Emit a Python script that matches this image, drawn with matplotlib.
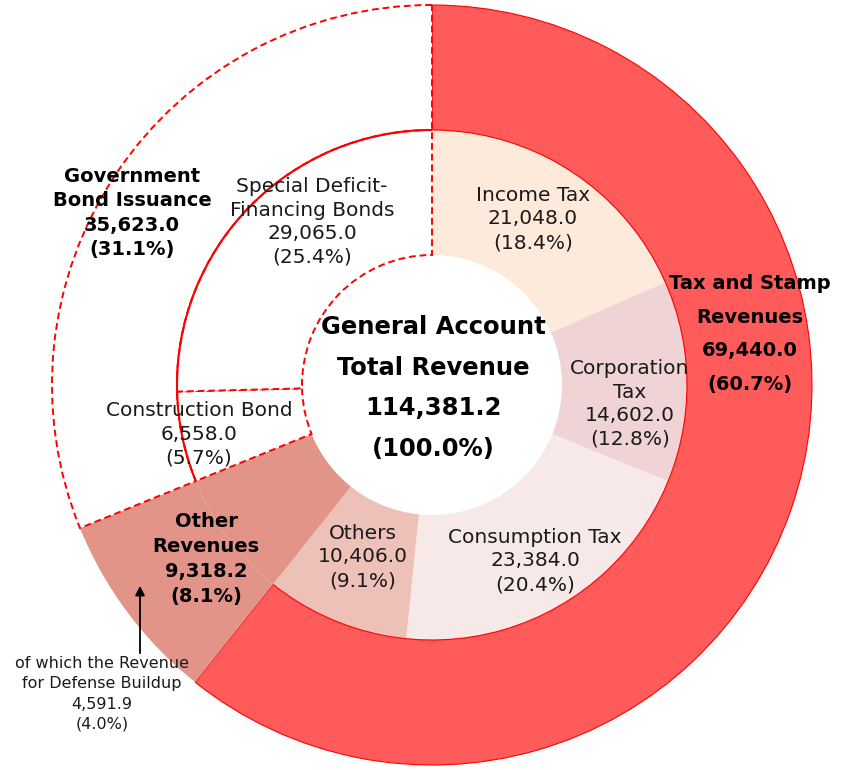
import matplotlib
matplotlib.use("Agg")
import matplotlib.pyplot as plt
from matplotlib.patches import Arc

plt.rcParams['font.family'] = ['DejaVu Sans']

# ---- data ----
outer_labels = ["Tax and Stamp\nRevenues", "Other\nRevenues", "Government\nBond Issuance"]
outer_values = [69440.0, 9318.2, 35623.0]
outer_pcts = [60.7, 8.1, 31.1]

inner_labels = ["Income Tax", "Corporation\nTax", "Consumption Tax", "Others",
                "Other Revenues", "Construction Bond", "Special Deficit-\nFinancing Bonds"]
inner_values = [21048.0, 14602.0, 23384.0, 10406.0, 9318.2, 6558.0, 29065.0]
inner_pcts = [18.4, 12.8, 20.4, 9.1, 8.1, 5.7, 25.4]

total_value = 114381.2
defense_value = 4591.9
defense_pct = 4.0

# ---- style ----
RED = "#FF0000"
outer_colors = ["#FF5B5B", "#E29489", "white"]
inner_colors = ["#FDEADB", "#F0D4D5", "#F6E9E7", "#EDC1B7", "#E29489", "white", "white"]

W, H = 843, 770
fig = plt.figure(figsize=(W / 100, H / 100), dpi=100)
ax = fig.add_axes([0, 0, 1, 1])

def Y(y_img):
    return H - y_img

cx, cy = 432, Y(385)
R_out, R_mid, R_in = 380, 255, 130

outer_w, _ = ax.pie(outer_values, radius=R_out, center=(cx, cy), startangle=90,
                    counterclock=False, colors=outer_colors,
                    wedgeprops=dict(width=R_out - R_mid, linewidth=0))
inner_w, _ = ax.pie(inner_values, radius=R_mid, center=(cx, cy), startangle=90,
                    counterclock=False, colors=inner_colors,
                    wedgeprops=dict(width=R_mid - R_in, linewidth=0))

DASH = (0, (3.5, 2))
for w in inner_w:
    w.set_zorder(1)
# tax outer: solid thin red edge
outer_w[0].set_edgecolor(RED); outer_w[0].set_linewidth(0.8); outer_w[0].set_zorder(2)
outer_w[1].set_zorder(2)
# bond outer: dashed
outer_w[2].set_edgecolor(RED); outer_w[2].set_linewidth(1.4)
outer_w[2].set_linestyle(DASH); outer_w[2].set_zorder(3)
# bond inner wedges: dashed + solid outer arc
for w in inner_w[5:]:
    w.set_edgecolor(RED); w.set_linewidth(1.4)
    w.set_linestyle(DASH); w.set_zorder(3)
    arc = Arc((cx, cy), 2 * R_mid, 2 * R_mid, theta1=w.theta1, theta2=w.theta2,
              color=RED, linewidth=1.5, zorder=4)
    ax.add_patch(arc)

ax.set_xlim(0, W)
ax.set_ylim(0, H)
ax.set_aspect("equal")
ax.axis("off")

def fmt(v):
    return f"{v:,.1f}"

TXT = "#1a1a1a"

# center
ax.text(433, Y(388), f"General Account\nTotal Revenue\n{fmt(total_value)}\n(100.0%)",
        ha="center", va="center", fontsize=17.5, fontweight="bold", linespacing=1.86, zorder=5)

# outer labels (bold)
ax.text(750, Y(334), f"{outer_labels[0]}\n{fmt(outer_values[0])}\n({outer_pcts[0]}%)",
        ha="center", va="center", fontsize=14, fontweight="bold", linespacing=1.98, zorder=5)
ax.text(206, Y(559), f"{outer_labels[1]}\n{fmt(outer_values[1])}\n({outer_pcts[1]}%)",
        ha="center", va="center", fontsize=14, fontweight="bold", linespacing=1.4, zorder=5)
ax.text(132, Y(213), f"{outer_labels[2]}\n{fmt(outer_values[2])}\n({outer_pcts[2]}%)",
        ha="center", va="center", fontsize=14, fontweight="bold", linespacing=1.34, zorder=5)

# inner labels
inner_pos = {0: (533, 219), 1: (630, 404), 2: (535, 561), 3: (363, 557),
             5: (199, 434), 6: (312, 222)}
for i, (x, y) in inner_pos.items():
    ax.text(x, Y(y), f"{inner_labels[i]}\n{fmt(inner_values[i])}\n({inner_pcts[i]}%)",
            ha="center", va="center", fontsize=14.5, linespacing=1.31,
            color=TXT, zorder=5)

# defense annotation
ax.text(102, Y(694), f"of which the Revenue\nfor Defense Buildup\n{fmt(defense_value)}\n({defense_pct}%)",
        ha="center", va="center", fontsize=11.5, linespacing=1.42, color=TXT, zorder=5)
ax.annotate("", xy=(140, Y(583)), xytext=(140, Y(656)),
            arrowprops=dict(arrowstyle="-|>", color="black", lw=1.3, mutation_scale=14),
            zorder=5)

fig.savefig("out.png", dpi=100)
